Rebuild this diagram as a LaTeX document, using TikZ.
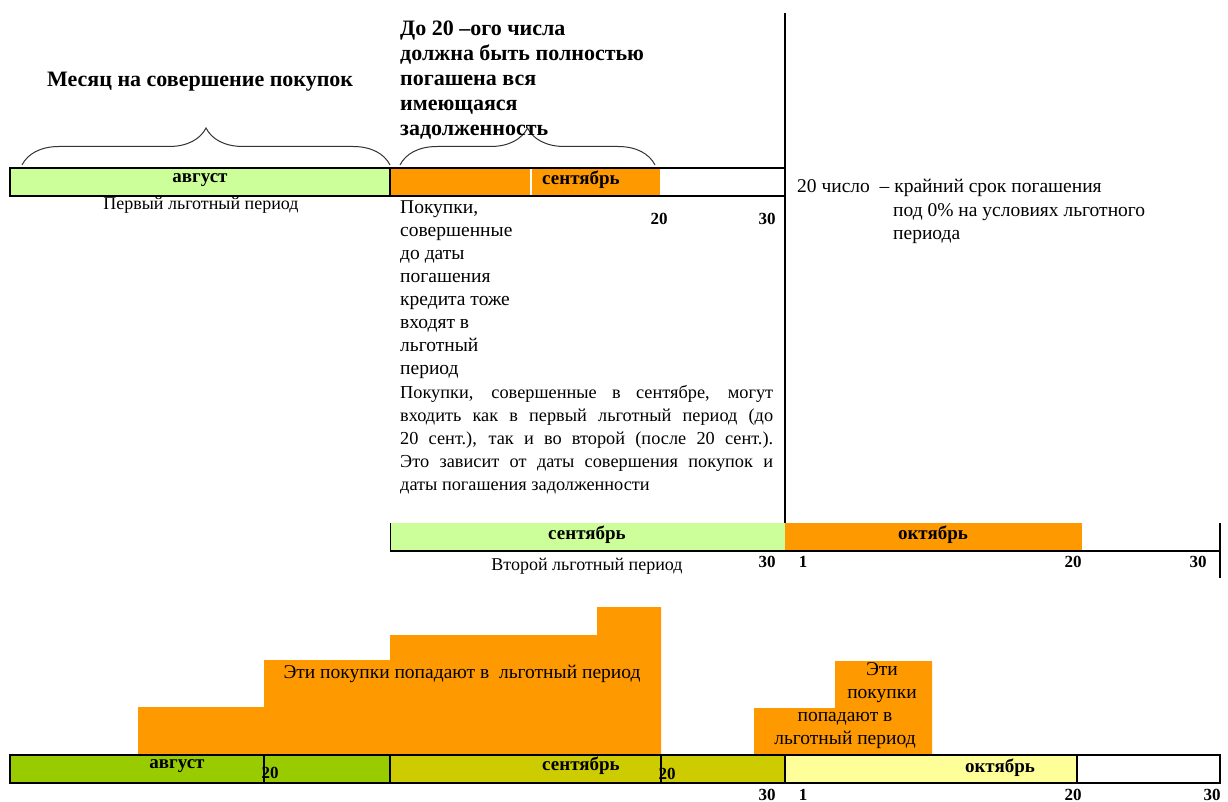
\documentclass[tikz,border=0pt]{standalone}
\usepackage{fontspec}
\setmainfont{Liberation Serif}
\usetikzlibrary{decorations.pathreplacing}
\definecolor{lgreen}{HTML}{CCFF99}
\definecolor{orng}{HTML}{FF9900}
\definecolor{dgreen}{HTML}{99CC00}
\definecolor{olive1}{HTML}{CCCC00}
\definecolor{lyellow}{HTML}{FFFF99}
\tikzset{
  every node/.style={inner sep=0pt},
  body/.style={font=\fontsize{19.5}{23}\selectfont},
  para/.style={font=\fontsize{18.3}{23}\selectfont},
  period/.style={font=\fontsize{18}{23}\selectfont},
  head/.style={font=\bfseries\fontsize{22}{25}\selectfont},
  month/.style={font=\bfseries\fontsize{19}{20}\selectfont},
  num/.style={font=\bfseries\fontsize{17}{18}\selectfont},
  barline/.style={line width=1.5pt},
  bracestyle/.style={decorate, decoration={brace, amplitude=37pt}, line width=1pt, black!80},
}
\begin{document}
\begin{tikzpicture}[x=1pt,y=-1pt]
\useasboundingbox (0,0) rectangle (1228,802);

% ---------- top bar ----------
\fill[lgreen] (10,168) rectangle (390,196);
\fill[orng] (390,168) rectangle (660,196);
\draw[white, line width=1.5pt] (531,169) -- (531,195);
\draw[barline] (10,168) rectangle (785,196);
\draw[barline] (390,168) -- (390,196);
\draw[line width=2pt] (785,13) -- (785,551);

\draw[bracestyle] (22,165) -- (390,165);
\draw[bracestyle] (400,165) -- (655,165);

\node[head, anchor=base west] (month) at (47,87) {Месяц на совершение покупок};
\node[head, anchor=north west, align=left] (until) at (400,21)
  {До 20 –ого числа\\должна быть полностью\\погашена вся\\имеющаяся\\задолженность};

\node[month] (aug1) at (200,180) {август};
\node[month] (sep1) at (581,180) {сентябрь};
\node[period] (first) at (201,205) {Первый льготный период};
\node[num] (n20a) at (659,219) {20};
\node[num] (n30a) at (767,219) {30};

\node[body, anchor=north west, align=left] (purch) at (400,201)
  {Покупки,\\совершенные\\до даты\\погашения\\кредита тоже\\входят в\\льготный\\период};
\node[para, anchor=north west, align=left] (purch2) at (400,385)
  {\hbox to 373pt{Покупки, совершенные в сентябре, могут}\\
   \hbox to 373pt{входить как в первый льготный период (до}\\
   \hbox to 373pt{20 сент.), так и во второй (после 20 сент.).}\\
   \hbox to 373pt{Это зависит от даты совершения покупок и}\\
   даты погашения задолженности};

\node[body, anchor=base west] (dl1) at (797,193) {20 число \ – крайний срок погашения};
\node[body, anchor=north west, align=left] (dl2) at (893,203) {под 0\% на условиях льготного\\периода};

% ---------- second bar ----------
\fill[lgreen] (390,523) rectangle (785,551);
\fill[orng] (785,523) rectangle (1082,551);
\draw[line width=1pt] (390,523) -- (390,551);
\draw[line width=2pt] (390,551) -- (1220,551);
\draw[line width=2pt] (1220,523) -- (1220,578);

\node[month] (sep2) at (587,535) {сентябрь};
\node[month] (oct2) at (933,535) {октябрь};
\node[period] (second) at (587,566) {Второй льготный период};
\node[num] (n30b) at (767,562) {30};
\node[num] (n1b) at (803,562) {1};
\node[num] (n20b) at (1073,562) {20};
\node[num] (n30c) at (1198,562) {30};

% ---------- bottom ----------
\fill[orng] (138,755) -- (138,707) -- (264,707) -- (264,660) -- (390,660) -- (390,635)
  -- (597,635) -- (597,607) -- (661,607) -- (661,755) -- cycle;
\fill[orng] (754,755) -- (754,708) -- (835,708) -- (835,661) -- (932,661) -- (932,755) -- cycle;

\fill[dgreen] (10,755) rectangle (390,783);
\fill[olive1] (390,755) rectangle (785,783);
\fill[lyellow] (785,755) rectangle (1077,783);
\draw[barline] (10,755) rectangle (1220,783);
\foreach \xx in {264,390,661,785,1077} \draw[barline] (\xx,755) -- (\xx,783);

\node[body] (these1) at (462,674) {Эти покупки попадают в \ льготный период};
\node[body, align=center] (these2a) at (882,683) {Эти\\покупки};
\node[body, align=center] (these2b) at (845,730) {попадают в\\льготный период};

\node[month] (aug3) at (177,766) {август};
\node[month] (sep3) at (581,766) {сентябрь};
\node[month] (oct3) at (1000,768) {октябрь};
\node[num] (n20c) at (270,773) {20};
\node[num] (n20d) at (667,774) {20};
\node[num] (n30d) at (767,795) {30};
\node[num] (n1d) at (803,795) {1};
\node[num] (n20e) at (1073,795) {20};
\node[num] (n30e) at (1212,795) {30};
\end{tikzpicture}
\end{document}
